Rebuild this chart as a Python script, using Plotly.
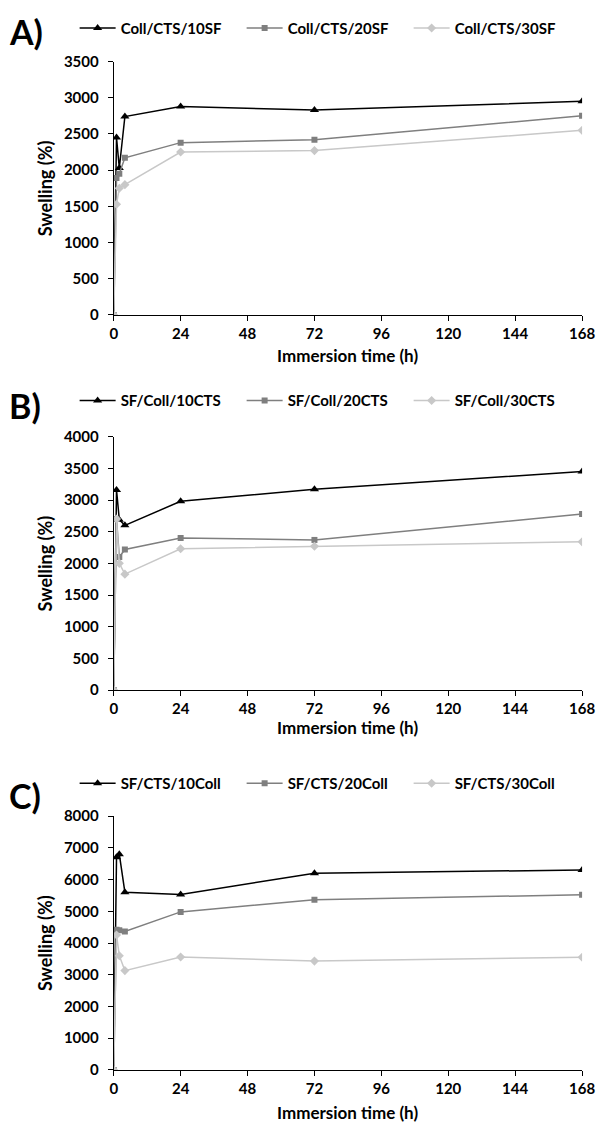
import plotly.graph_objects as go

time_h = [0, 1, 2, 4, 24, 72, 168]

# Panel A
a_names = ["Coll/CTS/10SF", "Coll/CTS/20SF", "Coll/CTS/30SF"]
a_10 = [0, 2450, 2030, 2740, 2880, 2830, 2950]
a_20 = [0, 1890, 1950, 2170, 2380, 2420, 2750]
a_30 = [0, 1530, 1750, 1800, 2250, 2270, 2550]

# Panel B
b_names = ["SF/Coll/10CTS", "SF/Coll/20CTS", "SF/Coll/30CTS"]
b_10 = [0, 3160, 2690, 2600, 2980, 3170, 3450]
b_20 = [0, 2700, 2100, 2220, 2400, 2370, 2780]
b_30 = [0, 2700, 2000, 1830, 2230, 2270, 2340]

# Panel C
c_names = ["SF/CTS/10Coll", "SF/CTS/20Coll", "SF/CTS/30Coll"]
c_10 = [0, 6700, 6800, 5600, 5530, 6200, 6300]
c_20 = [0, 4420, 4400, 4360, 4980, 5360, 5520]
c_30 = [0, 4250, 3600, 3130, 3560, 3430, 3550]

x_ticks = [0, 24, 48, 72, 96, 120, 144, 168]
x_title = "Immersion time (h)"
y_title = "Swelling (%)"
# letter, names, series, ymax, dtick, y-domain, legend y, letter y, x-title y (paper)
panels = [
    ("A)", a_names, [a_10, a_20, a_30], 3500, 500, [0.7210, 0.9455], 0.975, 0.972, 0.6855),
    ("B)", b_names, [b_10, b_20, b_30], 4000, 500, [0.3888, 0.6132], 0.645, 0.641, 0.3560),
    ("C)", c_names, [c_10, c_20, c_30], 8000, 1000, [0.0523, 0.2772], 0.306, 0.295, 0.0150),
]

colors = ["#000000", "#7f7f7f", "#c8c8c8"]
symbols = ["triangle-up", "square", "diamond"]
msizes = [8, 6, 7]

FONT = "Lato"
fig = go.Figure()
layout = dict(
    width=597, height=1129,
    margin=dict(l=0, r=0, t=0, b=0),
    paper_bgcolor="white", plot_bgcolor="white",
    font=dict(family=FONT, color="black"),
    annotations=[],
)

xdom = [0.1905, 0.975]
for i, (letter, names, series, ymax, dtick, ydom, leg_y, let_y, xt_y) in enumerate(panels):
    k = "" if i == 0 else str(i + 1)
    legname = "legend" + k
    for j in range(3):
        fig.add_trace(go.Scatter(
            x=time_h, y=series[j], name=names[j], mode="lines+markers",
            line=dict(color=colors[j], width=1.5),
            marker=dict(symbol=symbols[j], size=msizes[j], color=colors[j]),
            xaxis="x" + k, yaxis="y" + k, legend=legname,
        ))
    layout["xaxis" + k] = dict(
        domain=xdom, anchor="y" + k, range=[0, 168], tickvals=x_ticks,
        showgrid=False, zeroline=False, showline=True, linecolor="black", linewidth=1,
        ticks="outside", ticklen=5, tickcolor="black", automargin=False,
        tickfont=dict(family=FONT, size=15, color="black", weight="bold"),
    )
    layout["yaxis" + k] = dict(
        domain=ydom, anchor="x" + k, range=[0, ymax], dtick=dtick,
        showgrid=False, zeroline=False, showline=True, linecolor="black", linewidth=1,
        ticks="outside", ticklen=5, tickcolor="black", automargin=False,
        ticklabelstandoff=6,
        tickfont=dict(family=FONT, size=15, color="black", weight="bold"),
    )
    layout[legname] = dict(
        orientation="h", x=0.125, xanchor="left", y=leg_y, yanchor="middle",
        entrywidth=116, entrywidthmode="pixels", itemwidth=36,
        font=dict(family=FONT, size=15, color="black", weight="bold"),
        bgcolor="rgba(0,0,0,0)", tracegroupgap=0,
    )
    layout["annotations"].append(dict(
        text="<b>" + letter + "</b>", xref="paper", yref="paper",
        x=0.012, y=let_y, xanchor="left", yanchor="middle", showarrow=False,
        font=dict(family=FONT, size=34, color="black"),
    ))
    layout["annotations"].append(dict(
        text="<b>" + x_title + "</b>", xref="paper", yref="paper",
        x=(xdom[0] + xdom[1]) / 2, y=xt_y, xanchor="center", yanchor="middle",
        showarrow=False, font=dict(family=FONT, size=17, color="black"),
    ))
    layout["annotations"].append(dict(
        text="<b>" + y_title + "</b>", xref="paper", yref="paper", textangle=-90,
        x=0.0755, y=(ydom[0] + ydom[1]) / 2, xanchor="center", yanchor="middle",
        showarrow=False, font=dict(family=FONT, size=18, color="black"),
    ))

fig.update_layout(**layout)
fig.write_html(
    "out.html",
    config={"displayModeBar": False},
    post_script="document.body.style.margin='0';document.body.style.overflow='hidden';",
)
